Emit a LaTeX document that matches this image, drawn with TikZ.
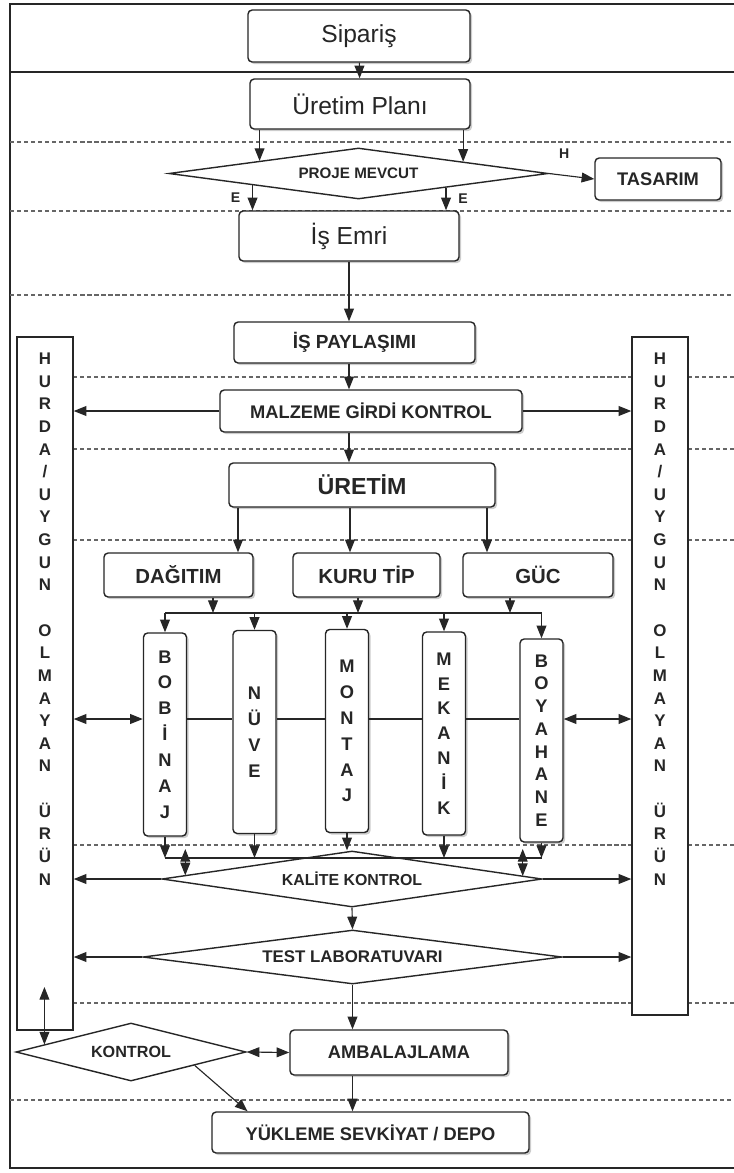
\documentclass[tikz,border=0pt]{standalone}
\usepackage{fontspec}
\setmainfont{Liberation Sans}
\usetikzlibrary{arrows.meta,shapes.geometric,shadows,calc}
\newcommand{\hurdayazi}{H\\U\\R\\D\\A\\/\\U\\Y\\G\\U\\N\\[16.1pt]O\\L\\M\\A\\Y\\A\\N\\[16.1pt]Ü\\R\\Ü\\N}

\begin{document}
\begin{tikzpicture}[x=0.025cm, y=-0.025cm, color=black!85, line width=0.8pt,
  box/.style={draw, rounded corners=3pt, fill=white, line width=1pt,
    drop shadow={shadow xshift=1.5pt, shadow yshift=-1.5pt, fill=black!40}},
  dia/.style={draw, diamond, aspect=6, inner sep=0pt, fill=white, line width=1pt},
  vbox/.style={box, minimum width=1.075cm, minimum height=5.075cm, align=center,
    font={\bfseries\fontsize{13}{18.4}\selectfont}},
  side/.style={draw, fill=white, line width=1pt, minimum width=1.4cm},
  sidetext/.style={align=center, font={\bfseries\fontsize{12}{16.1}\selectfont}},
  big/.style={font={\fontsize{17.5}{20}\selectfont}},
  txt/.style={font={\bfseries\fontsize{#1}{#1}\selectfont}},
  lbl/.style={font={\bfseries\fontsize{10}{12}\selectfont}},
  arr/.style={-{Triangle[length=9pt,width=7pt]}},
  dbl/.style={{Triangle[length=9pt,width=7pt]}-{Triangle[length=9pt,width=7pt]}},
  sep/.style={black!60, dash pattern=on 3pt off 2pt}]
  \useasboundingbox (0,0) rectangle (734,1173);

  % frame and lanes
  \draw (734,4) -- (10,4) -- (10,1168) -- (734,1168);
  \draw (10,72) -- (734,72);
  \foreach \y in {142,211,295,1100}
    \draw[sep] (10,\y) -- (734,\y);
  \foreach \y in {377,449,540,845,1003} {
    \draw[sep] (73,\y) -- (632,\y);
    \draw[sep] (688,\y) -- (734,\y);
  }

  \node[side, minimum height=17.325cm] (hurdaL) at (45,683.5) {};
  \node[side, minimum height=16.95cm] (hurdaR) at (660,676) {};
  \node[sidetext] (hurdaLtext) at (45,619) {\hurdayazi};
  \node[sidetext] (hurdaRtext) at (660,619) {\hurdayazi};

  \node[box, big, minimum width=5.55cm, minimum height=1.3cm] (sip) at (359,36) {Sipariş};
  \node[box, big, minimum width=5.5cm, minimum height=1.25cm] (plan) at (360,104) {Üretim Planı};
  \node[dia, txt=10.8, minimum width=9.475cm, minimum height=1.275cm] (proje) at (358.5,173.5) {PROJE MEVCUT};
  \node[box, txt=13, minimum width=3.15cm, minimum height=1.05cm] (tasarim) at (658,179) {TASARIM};
  \node[box, big, minimum width=5.5cm, minimum height=1.25cm] (isemri) at (349,236) {İş Emri};
  \node[box, txt=13.5, minimum width=6.025cm, minimum height=1.025cm] (paylasim) at (354.5,342.5) {İŞ PAYLAŞIMI};
  \node[box, txt=13, minimum width=7.55cm, minimum height=1.05cm] (malzeme) at (371,411) {MALZEME GİRDİ KONTROL};
  \node[box, txt=16.5, minimum width=6.65cm, minimum height=1.1cm] (uretim) at (362,485) {ÜRETİM};
  \node[box, txt=14.5, minimum width=3.725cm, minimum height=1.1cm] (dagitim) at (178.5,575) {DAĞITIM};
  \node[box, txt=14.5, minimum width=3.675cm, minimum height=1.1cm] (kuru) at (366.5,575) {KURU TİP};
  \node[box, txt=14.5, minimum width=3.75cm, minimum height=1.1cm] (guc) at (538,575) {GÜC};

  \node[vbox] (bobinaj) at (165,734.5) {B\\O\\B\\İ\\N\\A\\J};
  \node[vbox] (nuve) at (254.5,732) {N\\Ü\\V\\E};
  \node[vbox] (montaj) at (347,731) {M\\O\\N\\T\\A\\J};
  \node[vbox, font={\bfseries\fontsize{13}{17.7}\selectfont}] (mekanik) at (444,733.5) {M\\E\\K\\A\\N\\İ\\K};
  \node[vbox, font={\bfseries\fontsize{13}{16.2}\selectfont}] (boyahane) at (541.5,740.5) {B\\O\\Y\\A\\H\\A\\N\\E};

  \node[dia, txt=11.3, minimum width=9.5cm, minimum height=1.4cm] (kalite) at (352,879) {KALİTE KONTROL};
  \node[dia, txt=12, minimum width=10.475cm, minimum height=1.35cm] (test) at (352.5,957) {TEST LABORATUVARI};
  \node[dia, txt=11.5, aspect=4, minimum width=5.75cm, minimum height=1.45cm] (kontrol) at (131,1052) {KONTROL};
  \node[box, txt=13, minimum width=5.45cm, minimum height=1.125cm] (ambalaj) at (399,1052.5) {AMBALAJLAMA};
  \node[box, txt=13, minimum width=7.925cm, minimum height=1.025cm] (yukleme) at (370.5,1132.5) {YÜKLEME SEVKİYAT / DEPO};

  \coordinate (bus) at (0,613);
  \coordinate (mid) at (0,719);
  \coordinate (col) at (0,858);
  \coordinate (kup) at (0,849);
  \coordinate (hup) at (0,987);
  \coordinate (p1) at ($(proje.north)!0.52!(proje.west)$);
  \coordinate (p2) at ($(proje.north)!0.55!(proje.east)$);
  \coordinate (e1) at ($(proje.south)!0.557!(proje.west)$);
  \coordinate (e2) at ($(proje.south)!0.46!(proje.east)$);
  \coordinate (k1) at ($(kalite.north)!0.874!(kalite.west)$);
  \coordinate (k2) at ($(kalite.north)!0.895!(kalite.east)$);
  \coordinate (kc) at ($(kontrol.north)!0.748!(kontrol.west)$);

  % top part
  \draw[arr] (sip) -- (plan);
  \draw[arr] (plan.south -| p1) -- (p1);
  \draw[arr] (plan.south -| p2) -- (p2);
  \draw[arr] (proje.east) -- node[lbl, pos=0.34, above=8pt] {H} (tasarim.west);
  \draw[arr] (e1) -- node[lbl, left=5pt] {E} (e1 |- isemri.north);
  \draw[arr] (e2) -- node[lbl, right=5pt] {E} (e2 |- isemri.north);
  \draw[arr] (isemri.south) -- (isemri.south |- paylasim.north);
  \draw[arr] (paylasim.south -| isemri.south) -- (malzeme.north -| isemri.south);
  \draw[arr] (malzeme.west) -- (malzeme.west -| hurdaL.east);
  \draw[arr] (malzeme.east) -- (malzeme.east -| hurdaR.west);
  \draw[arr] (malzeme.south -| isemri.south) -- (uretim.north -| isemri.south);

  % production
  \draw[arr] (238,0 |- uretim.south) -- (238,0 |- dagitim.north);
  \draw[arr] (350,0 |- uretim.south) -- (350,0 |- kuru.north);
  \draw[arr] (487,0 |- uretim.south) -- (487,0 |- guc.north);
  \draw[arr] (213,0 |- dagitim.south) -- (213,0 |- bus);
  \draw[arr] (358,0 |- kuru.south) -- (358,0 |- bus);
  \draw[arr] (510,0 |- guc.south) -- (510,0 |- bus);
  \draw (bobinaj.north |- bus) -- (boyahane.north |- bus);
  \foreach \n in {bobinaj,nuve,montaj,mekanik,boyahane}
    \draw[arr] (\n.north |- bus) -- (\n.north);
  \foreach \a/\b in {bobinaj/nuve,nuve/montaj,montaj/mekanik,mekanik/boyahane}
    \draw (\a.east |- mid) -- (\b.west |- mid);
  \draw[dbl] (hurdaL.east |- mid) -- (bobinaj.west |- mid);
  \draw[dbl] (boyahane.east |- mid) -- (hurdaR.west |- mid);

  % quality
  \draw (bobinaj.south |- col) -- (boyahane.south |- col);
  \foreach \n in {bobinaj,nuve,mekanik,boyahane}
    \draw[arr] (\n.south) -- (\n.south |- col);
  \draw[arr] (montaj.south) -- (montaj.south |- kalite.north);
  \draw[dbl] (k1 |- kup) -- (k1);
  \draw[dbl] (k2 |- kup) -- (k2);
  \draw[arr] (kalite.west) -- (kalite.west -| hurdaL.east);
  \draw[arr] (kalite.east) -- (kalite.east -| hurdaR.west);
  \draw[arr] (kalite.south) -- (test.north);
  \draw[arr] (test.west) -- (test.west -| hurdaL.east);
  \draw[arr] (test.east) -- (test.east -| hurdaR.west);
  \draw[arr] (test.south) -- (test.south |- ambalaj.north);

  % shipping
  \draw[dbl] (kc |- hup) -- (kc);
  \draw[dbl] (kontrol.east) -- (ambalaj.west);
  \draw[arr] ($(kontrol.south)!0.55!(kontrol.east)$) -- ($(yukleme.north west)!0.114!(yukleme.north east)$);
  \draw[arr] (ambalaj.south -| test.south) -- (yukleme.north -| test.south);
\end{tikzpicture}
\end{document}
